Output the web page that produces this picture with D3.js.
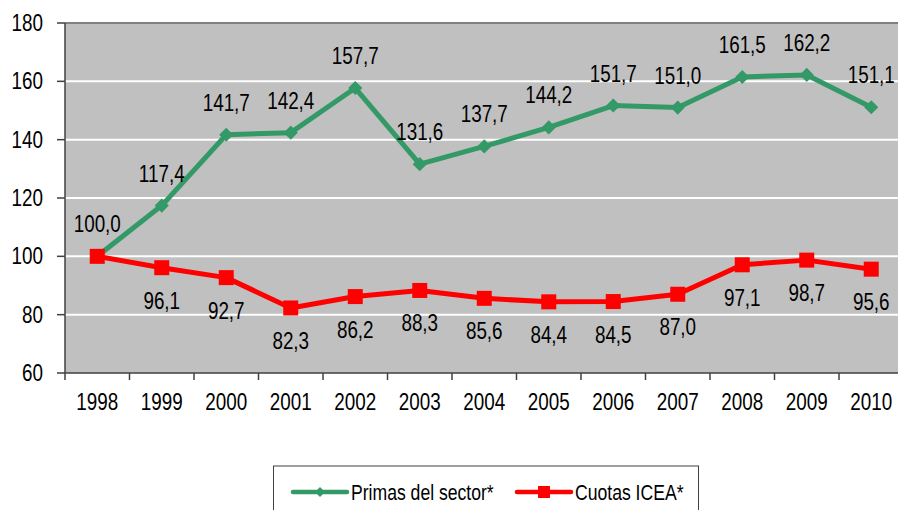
<!DOCTYPE html>
<html>
<head>
<meta charset="utf-8">
<script src="https://cdn.jsdelivr.net/npm/d3@7"></script>
<style>
  body { margin: 0; background: #fff; }
</style>
</head>
<body>
<div id="chart"></div>
<script>
// data
const years = ['1998', '1999', '2000', '2001', '2002', '2003', '2004', '2005', '2006', '2007', '2008', '2009', '2010'];
const primas = [100.0, 117.4, 141.7, 142.4, 157.7, 131.6, 137.7, 144.2, 151.7, 151.0, 161.5, 162.2, 151.1];
const cuotas = [100.0, 96.1, 92.7, 82.3, 86.2, 88.3, 85.6, 84.4, 84.5, 87.0, 97.1, 98.7, 95.6];
const yTicks = [60, 80, 100, 120, 140, 160, 180];
const seriesNames = ['Primas del sector*', 'Cuotas ICEA*'];

const W = 898, H = 510;
const margin = { top: 23, left: 65 };
const plotW = 838.5, plotH = 350;
const FONT = '"Liberation Sans", Arial, Helvetica, sans-serif';

const fmt = v => d3.format('.1f')(v).replace('.', ',');

const svg = d3.select('#chart').append('svg')
  .attr('width', W)
  .attr('height', H);

const x = d3.scaleBand()
  .domain(years)
  .range([margin.left, margin.left + plotW]);

const y = d3.scaleLinear()
  .domain([60, 180])
  .range([margin.top + plotH, margin.top]);

// narrow-looking text, like the original export
function label(g, tx, ty, str, size, anchor, sx) {
  g.append('text')
    .attr('transform', `translate(${tx},${ty}) scale(${sx},1)`)
    .attr('text-anchor', anchor)
    .attr('font-family', FONT)
    .attr('font-size', size)
    .attr('fill', '#000')
    .text(str);
}

// plot background
svg.append('rect')
  .attr('x', margin.left)
  .attr('y', margin.top)
  .attr('width', plotW)
  .attr('height', plotH)
  .attr('fill', '#c0c0c0');

// gridlines
svg.append('g')
  .selectAll('line')
  .data(yTicks.filter(t => t > 60 && t < 180))
  .join('line')
  .attr('x1', margin.left)
  .attr('x2', margin.left + plotW)
  .attr('y1', d => y(d))
  .attr('y2', d => y(d))
  .attr('stroke', '#fff')
  .attr('stroke-width', 2);

// top border
svg.append('line')
  .attr('x1', margin.left).attr('x2', margin.left + plotW)
  .attr('y1', y(180)).attr('y2', y(180))
  .attr('stroke', '#808080').attr('stroke-width', 2);

// y axis
const yAxis = svg.append('g');
yAxis.append('line')
  .attr('x1', margin.left).attr('x2', margin.left)
  .attr('y1', y(180)).attr('y2', y(60))
  .attr('stroke', '#404040').attr('stroke-width', 1.5);
yAxis.selectAll('.tick')
  .data(yTicks)
  .join('line')
  .attr('x1', margin.left - 8).attr('x2', margin.left)
  .attr('y1', d => y(d)).attr('y2', d => y(d))
  .attr('stroke', '#404040').attr('stroke-width', 1.5);
yTicks.forEach(t => label(yAxis, 43, y(t) + 8, String(t), 23, 'end', 0.82));

// x axis
const xAxis = svg.append('g');
xAxis.append('line')
  .attr('x1', margin.left).attr('x2', margin.left + plotW)
  .attr('y1', y(60)).attr('y2', y(60))
  .attr('stroke', '#404040').attr('stroke-width', 1.5);
xAxis.selectAll('line.tk')
  .data(years)
  .join('line')
  .attr('class', 'tk')
  .attr('x1', d => x(d)).attr('x2', d => x(d))
  .attr('y1', y(60)).attr('y2', y(60) + 7)
  .attr('stroke', '#404040').attr('stroke-width', 1.5);
years.forEach(yr => label(xAxis, x(yr) + x.bandwidth() / 2, 410, yr, 23, 'middle', 0.82));

const cx = d => x(d) + x.bandwidth() / 2;
const line = d3.line()
  .x((d, i) => cx(years[i]))
  .y(d => y(d));

// green series
svg.append('path')
  .datum(primas)
  .attr('d', line)
  .attr('fill', 'none')
  .attr('stroke', '#339966')
  .attr('stroke-width', 5)
  .attr('stroke-linejoin', 'round');

svg.append('g')
  .selectAll('path')
  .data(primas)
  .join('path')
  .attr('transform', (d, i) => `translate(${cx(years[i])},${y(d)}) rotate(45)`)
  .attr('d', 'M-5,-5H5V5H-5Z')
  .attr('fill', '#339966');

// red series
svg.append('path')
  .datum(cuotas)
  .attr('d', line)
  .attr('fill', 'none')
  .attr('stroke', '#ff0000')
  .attr('stroke-width', 5)
  .attr('stroke-linejoin', 'round');

svg.append('g')
  .selectAll('rect')
  .data(cuotas)
  .join('rect')
  .attr('x', (d, i) => cx(years[i]) - 7.5)
  .attr('y', d => y(d) - 7.5)
  .attr('width', 15)
  .attr('height', 15)
  .attr('fill', '#ff0000');

// value labels
const labels = svg.append('g');
primas.forEach((v, i) => label(labels, cx(years[i]), y(v) - 24, fmt(v), 23, 'middle', 0.82));
cuotas.forEach((v, i) => {
  if (i === 0) return; // hidden behind the 100,0 of the other series
  label(labels, cx(years[i]), y(v) + 41, fmt(v), 23, 'middle', 0.82);
});

// legend
const legend = svg.append('g');
legend.append('rect')
  .attr('x', 273.5).attr('y', 466)
  .attr('width', 425).attr('height', 60)
  .attr('fill', '#fff')
  .attr('stroke', '#404040').attr('stroke-width', 1);

const legendItems = [
  { name: seriesNames[0], color: '#339966', x0: 293, shape: 'diamond' },
  { name: seriesNames[1], color: '#ff0000', x0: 517, shape: 'square' }
];
legendItems.forEach(it => {
  const ly = 492;
  legend.append('line')
    .attr('x1', it.x0).attr('x2', it.x0 + 54)
    .attr('y1', ly).attr('y2', ly)
    .attr('stroke', it.color).attr('stroke-width', 4.5)
    .attr('stroke-linecap', 'round');
  if (it.shape === 'diamond') {
    legend.append('path')
      .attr('transform', `translate(${it.x0 + 27},${ly}) rotate(45)`)
      .attr('d', 'M-3.5,-3.5H3.5V3.5H-3.5Z')
      .attr('fill', it.color);
  } else {
    legend.append('rect')
      .attr('x', it.x0 + 27 - 6).attr('y', ly - 6)
      .attr('width', 12).attr('height', 12)
      .attr('fill', it.color);
  }
  label(legend, it.x0 + 58, ly + 8, it.name, 22, 'start', 0.8);
});
</script>
</body>
</html>
